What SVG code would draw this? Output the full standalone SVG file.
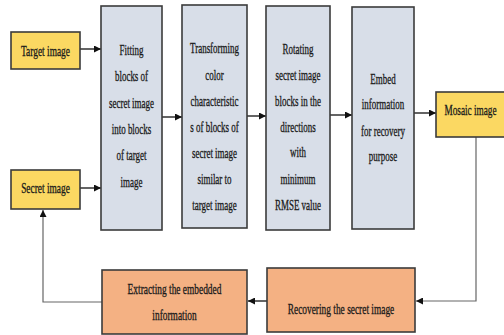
<svg xmlns="http://www.w3.org/2000/svg" width="504" height="335" viewBox="0 0 504 335">
<defs>
<marker id="ah" viewBox="0 0 10 10" refX="10" refY="5" markerWidth="7" markerHeight="7" markerUnits="userSpaceOnUse" orient="auto">
<path d="M0,0 L10,5 L0,10 z" fill="#111"/>
</marker>
<style>
.box{stroke:#3b3b3b;stroke-width:1.6}
.y{fill:#FBD862}
.g{fill:#D8DEE8}
.o{fill:#F4B183}
text{font-family:"Liberation Serif","Times New Roman",serif;font-size:13.8px;fill:#1a1a1a;stroke:#1a1a1a;stroke-width:0.3;text-anchor:middle}
.c{fill:none;stroke:#222;stroke-width:1.4}
.cl{fill:none;stroke:#666;stroke-width:1.2}
</style>
</defs>
<rect width="504" height="335" fill="#fff"/>
<g id="connectors">
<path class="c" d="M80,49 H101" marker-end="url(#ah)"/>
<path class="c" d="M80,188 H101" marker-end="url(#ah)"/>
<path class="c" d="M162,117 H182" marker-end="url(#ah)"/>
<path class="c" d="M247,116 H266" marker-end="url(#ah)"/>
<path class="c" d="M330,115 H352" marker-end="url(#ah)"/>
<path class="c" d="M414,113 H436" marker-end="url(#ah)"/>
<path class="cl" d="M476,137 V301 H416" marker-end="url(#ah)"/>
<path class="c" d="M267,301 H248" marker-end="url(#ah)"/>
<path class="cl" d="M102,302 H43 V210" marker-end="url(#ah)"/>
</g>
<g id="target">
<rect class="box y" x="11" y="32" width="69" height="37"/>
<text transform="matrix(0.68 0 0 1 45.5 56)">Target image</text>
</g>
<g id="secret">
<rect class="box y" x="11" y="170" width="69" height="39"/>
<text transform="matrix(0.68 0 0 1 45.5 193)">Secret image</text>
</g>
<g id="fitting">
<rect class="box g" x="101" y="6" width="61" height="224"/>
<text transform="matrix(0.65 0 0 1 131.5 0)"><tspan x="0" y="55">Fitting</tspan><tspan x="0" y="81.5">blocks of</tspan><tspan x="0" y="108">secret image</tspan><tspan x="0" y="134">into blocks</tspan><tspan x="0" y="160.5">of target</tspan><tspan x="0" y="187">image</tspan></text>
</g>
<g id="transforming">
<rect class="box g" x="182" y="5" width="65" height="223"/>
<text transform="matrix(0.65 0 0 1 214.5 0)"><tspan x="0" y="53">Transforming</tspan><tspan x="0" y="80">color</tspan><tspan x="0" y="106">characteristic</tspan><tspan x="0" y="132">s of blocks of</tspan><tspan x="0" y="158">secret image</tspan><tspan x="0" y="184">similar to</tspan><tspan x="0" y="210">target image</tspan></text>
</g>
<g id="rotating">
<rect class="box g" x="266" y="6" width="64" height="224"/>
<text transform="matrix(0.65 0 0 1 298 0)"><tspan x="0" y="54">Rotating</tspan><tspan x="0" y="80.5">secret image</tspan><tspan x="0" y="106">blocks in the</tspan><tspan x="0" y="132">directions</tspan><tspan x="0" y="157.5">with</tspan><tspan x="0" y="184">minimum</tspan><tspan x="0" y="210">RMSE value</tspan></text>
</g>
<g id="embed">
<rect class="box g" x="352" y="7" width="62" height="222"/>
<text transform="matrix(0.65 0 0 1 383 0)"><tspan x="0" y="84">Embed</tspan><tspan x="0" y="109.5">information</tspan><tspan x="0" y="136">for recovery</tspan><tspan x="0" y="161">purpose</tspan></text>
</g>
<g id="mosaic">
<rect class="box y" x="436" y="92" width="70" height="45"/>
<text transform="matrix(0.67 0 0 1 470.5 115)">Mosaic image</text>
</g>
<g id="recovering">
<rect class="box o" x="267" y="268" width="148" height="64"/>
<text transform="matrix(0.68 0 0 1 341 314)">Recovering the secret image</text>
</g>
<g id="extracting">
<rect class="box o" x="102" y="270" width="145" height="64"/>
<text transform="matrix(0.68 0 0 1 174.5 0)"><tspan x="0" y="294">Extracting the embedded</tspan><tspan x="0" y="320">information</tspan></text>
</g>
</svg>
